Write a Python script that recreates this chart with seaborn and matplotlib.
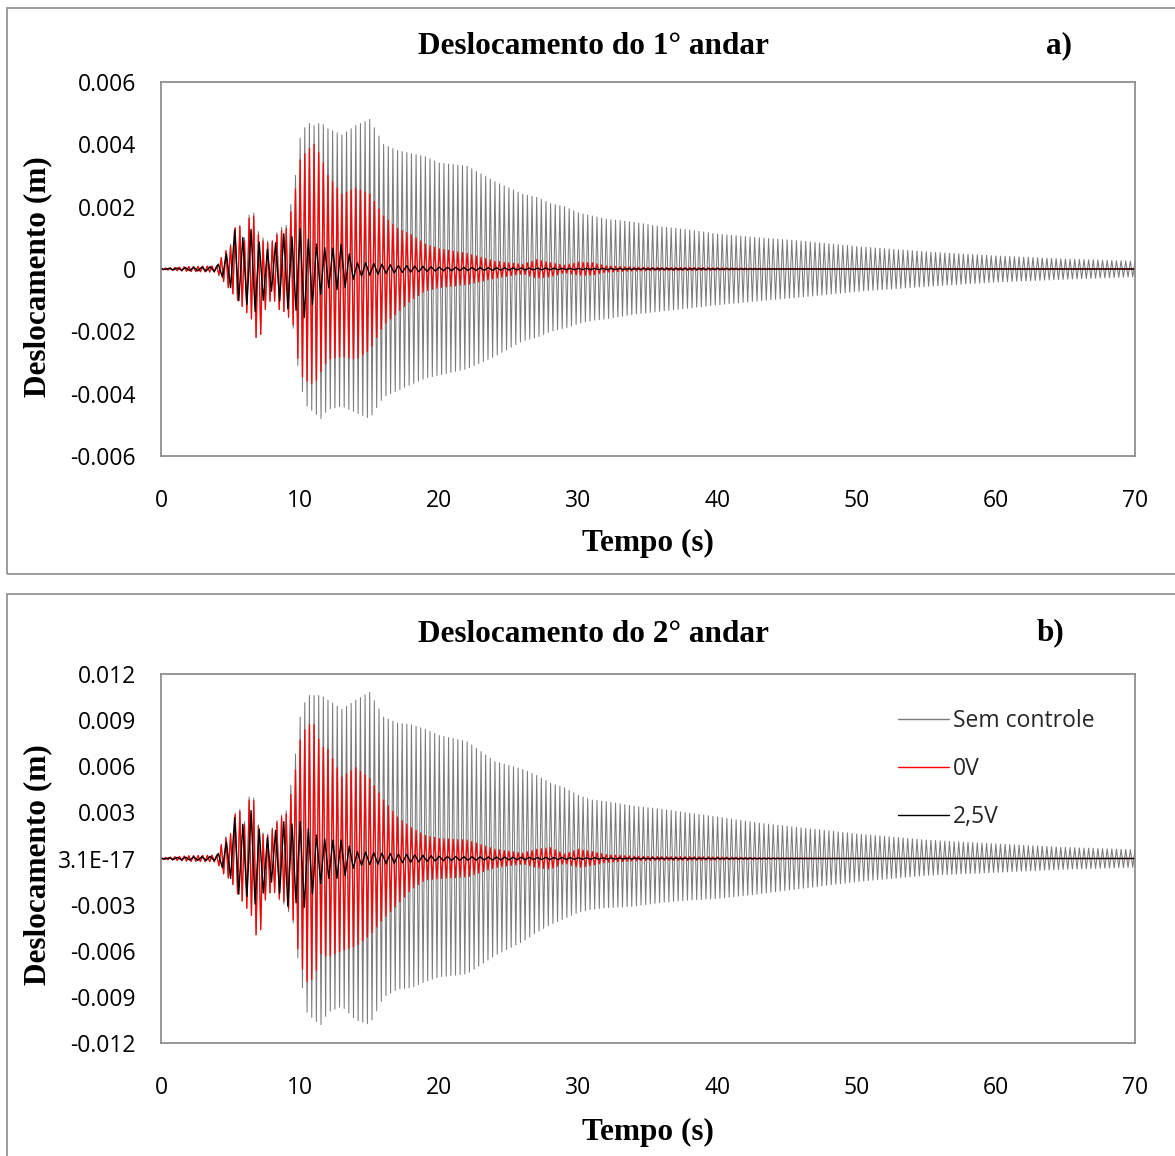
import numpy as np
import pandas as pd
import matplotlib
matplotlib.use("Agg")
import matplotlib.pyplot as plt
from matplotlib.patches import Rectangle
import seaborn as sns

# ---------------- data ----------------
# envelope knots (s) and peak displacements (mm = 1e-3 m) at those knots
T_KNOTS = [0, 2, 4, 4.5, 5, 5.5, 6, 6.5, 7, 7.5, 8, 8.5, 9, 9.5, 10, 10.5, 11, 11.5, 12,
           13, 14, 15, 16, 17, 18, 19, 20, 22, 24, 26, 27, 28, 29, 30, 31, 32,
           34, 36, 38, 40, 43, 46, 50, 55, 60, 65, 70]

# dominant oscillation frequencies read from peak spacing (Hz)
FREQ_MAIN = 3.0
FREQ_25V = 1.7

# --- panel a: 1st floor ---
sem_a_up = [0.02, 0.08, 0.10, 0.5, 0.8, 1.6, 1.0, 2.1, 1.2, 0.9, 0.9, 1.3, 1.4, 2.4, 4.2, 4.7, 4.6, 4.7, 4.5,
            4.3, 4.6, 4.8, 4.0, 3.8, 3.7, 3.6, 3.4, 3.3, 2.8, 2.4, 2.3, 2.1, 2.0, 1.8, 1.7, 1.6,
            1.5, 1.35, 1.25, 1.12, 1.0, 0.9, 0.72, 0.55, 0.42, 0.32, 0.25]
sem_a_dn = [-0.02, -0.08, -0.10, -0.4, -0.7, -1.0, -1.3, -1.6, -2.5, -1.3, -0.9, -1.3, -1.4, -1.9, -3.7, -4.4, -4.6, -4.8, -4.5,
            -4.4, -4.6, -4.8, -4.1, -3.9, -3.7, -3.5, -3.4, -3.2, -2.8, -2.3, -2.2, -2.0, -1.9, -1.75, -1.65, -1.6,
            -1.45, -1.35, -1.25, -1.15, -1.02, -0.9, -0.72, -0.56, -0.42, -0.33, -0.25]
v0_a_up = [0.02, 0.08, 0.10, 0.5, 0.75, 1.6, 0.9, 2.0, 1.1, 0.8, 0.9, 1.2, 1.3, 2.1, 3.5, 3.8, 4.0, 3.6, 3.0,
           2.4, 2.6, 2.4, 1.7, 1.3, 1.1, 0.8, 0.65, 0.5, 0.25, 0.15, 0.3, 0.2, 0.12, 0.22, 0.2, 0.1,
           0.06, 0.05, 0.05, 0.04, 0.02, 0.01, 0.0, 0.0, 0.0, 0.0, 0.0]
v0_a_dn = [-0.02, -0.08, -0.10, -0.4, -0.7, -1.0, -1.3, -1.6, -2.5, -1.3, -0.9, -1.3, -1.4, -1.8, -3.4, -3.6, -3.7, -3.3, -2.9,
           -2.8, -2.9, -2.6, -1.8, -1.4, -1.0, -0.7, -0.6, -0.5, -0.3, -0.15, -0.3, -0.25, -0.12, -0.2, -0.2, -0.1,
           -0.06, -0.05, -0.05, -0.04, -0.02, -0.01, 0.0, 0.0, 0.0, 0.0, 0.0]
v25_a_up = [0.01, 0.05, 0.08, 0.4, 0.6, 1.7, 0.8, 1.3, 0.9, 0.6, 0.7, 1.0, 1.2, 1.0, 1.3, 1.0, 0.8, 0.8, 0.6,
            0.8, 0.2, 0.2, 0.15, 0.12, 0.1, 0.08, 0.06, 0.05, 0.04, 0.03, 0.03, 0.03, 0.02, 0.02, 0.02, 0.02,
            0.01, 0.01, 0.01, 0.01, 0.0, 0.0, 0.0, 0.0, 0.0, 0.0, 0.0]
v25_a_dn = [-0.01, -0.05, -0.08, -0.3, -0.6, -1.0, -1.1, -1.2, -1.5, -0.8, -0.7, -1.0, -1.3, -1.2, -1.5, -1.6, -1.0, -0.8, -0.6,
            -0.7, -0.25, -0.2, -0.15, -0.12, -0.1, -0.08, -0.06, -0.05, -0.04, -0.03, -0.03, -0.03, -0.02, -0.02, -0.02, -0.02,
            -0.01, -0.01, -0.01, -0.01, 0.0, 0.0, 0.0, 0.0, 0.0, 0.0, 0.0]

# --- panel b: 2nd floor ---
sem_b_up = [0.05, 0.18, 0.22, 1.3, 1.65, 3.6, 2.4, 4.8, 2.2, 1.4, 2.0, 2.7, 3.1, 5.6, 9.2, 10.6, 10.6, 10.6, 10.3,
            9.7, 10.3, 10.8, 9.2, 8.8, 8.7, 8.4, 8.0, 7.6, 6.3, 5.8, 5.4, 4.9, 4.6, 4.1, 3.8, 3.7,
            3.4, 3.2, 2.95, 2.7, 2.3, 2.0, 1.6, 1.2, 0.95, 0.72, 0.57]
sem_b_dn = [-0.05, -0.18, -0.22, -1.0, -1.4, -2.3, -3.0, -3.7, -5.6, -2.7, -2.0, -2.7, -3.1, -4.2, -7.6, -10.0, -10.5, -10.8, -10.0,
            -9.6, -10.5, -10.8, -9.0, -8.5, -8.4, -8.0, -7.7, -7.5, -6.3, -5.4, -4.8, -4.3, -3.9, -3.5, -3.3, -3.2,
            -3.1, -2.85, -2.7, -2.6, -2.3, -1.95, -1.5, -1.1, -0.9, -0.7, -0.57]
v0_b_up = [0.05, 0.18, 0.22, 1.2, 1.6, 3.5, 2.2, 4.6, 2.1, 1.3, 1.9, 2.6, 2.9, 4.8, 7.7, 8.7, 8.7, 7.3, 7.1,
           5.3, 5.9, 5.2, 3.8, 2.7, 2.0, 1.5, 1.3, 1.2, 0.6, 0.35, 0.6, 0.7, 0.3, 0.6, 0.45, 0.25,
           0.15, 0.12, 0.12, 0.1, 0.05, 0.03, 0.0, 0.0, 0.0, 0.0, 0.0]
v0_b_dn = [-0.05, -0.18, -0.22, -1.0, -1.4, -2.3, -3.0, -3.7, -5.6, -2.7, -2.0, -2.6, -2.9, -4.0, -6.8, -8.0, -7.8, -6.2, -6.4,
           -6.0, -5.7, -5.0, -3.9, -3.0, -2.0, -1.4, -1.3, -1.2, -0.6, -0.35, -0.6, -0.7, -0.3, -0.6, -0.45, -0.25,
           -0.15, -0.12, -0.12, -0.1, -0.05, -0.03, 0.0, 0.0, 0.0, 0.0, 0.0]
v25_b_up = [0.03, 0.1, 0.15, 0.9, 1.3, 3.6, 1.8, 3.2, 2.0, 1.3, 1.5, 2.2, 2.5, 2.2, 2.4, 2.0, 1.6, 1.4, 1.2,
            1.2, 0.45, 0.4, 0.35, 0.3, 0.25, 0.2, 0.15, 0.12, 0.1, 0.08, 0.07, 0.07, 0.06, 0.05, 0.05, 0.04,
            0.03, 0.02, 0.02, 0.02, 0.0, 0.0, 0.0, 0.0, 0.0, 0.0, 0.0]
v25_b_dn = [-0.03, -0.1, -0.15, -0.7, -1.3, -2.3, -2.4, -2.6, -3.3, -1.8, -1.5, -2.2, -3.2, -2.8, -3.0, -3.3, -2.0, -1.6, -1.3,
            -1.3, -0.5, -0.4, -0.35, -0.3, -0.25, -0.2, -0.15, -0.12, -0.1, -0.08, -0.07, -0.07, -0.06, -0.05, -0.05, -0.04,
            -0.03, -0.02, -0.02, -0.02, 0.0, 0.0, 0.0, 0.0, 0.0, 0.0, 0.0]

SERIES = ["Sem controle", "0V", "2,5V"]
TITLES = ["Deslocamento do 1° andar", "Deslocamento do 2° andar"]
PANEL_TAGS = ["a)", "b)"]
X_TICKS = [0, 10, 20, 30, 40, 50, 60, 70]
Y_TICKS_A = [0.006, 0.004, 0.002, 0.0, -0.002, -0.004, -0.006]
Y_LABELS_A = ["0.006", "0.004", "0.002", "0", "-0.002", "-0.004", "-0.006"]
Y_TICKS_B = [0.012, 0.009, 0.006, 0.003, 0.0, -0.003, -0.006, -0.009, -0.012]
Y_LABELS_B = ["0.012", "0.009", "0.006", "0.003", "3.1E-17", "-0.003", "-0.006", "-0.009", "-0.012"]


def peak_series(up_mm, dn_mm, freq, t_end=70.0):
    """Alternate between the read upper and lower peak envelopes every half period."""
    half = 0.5 / freq
    tp = np.arange(0.0, t_end + 1e-9, half)
    u = np.interp(tp, T_KNOTS, up_mm)
    d = np.interp(tp, T_KNOTS, dn_mm)
    y = np.where(np.arange(len(tp)) % 2 == 0, u, d) * 1e-3
    return pd.DataFrame({"Tempo": tp, "Desloc": y})


# ---------------- style ----------------
sns.set_theme(style="white")
plt.rcParams["font.family"] = ["Open Sans", "DejaVu Sans"]
SERIF = ["Liberation Serif", "DejaVu Serif"]

W, H = 1175, 1156
fig = plt.figure(figsize=(W / 100, H / 100), dpi=100)
fig.patch.set_facecolor("white")

COLORS = {"Sem controle": "#7a7a7a", "0V": "#ff0000", "2,5V": "#000000"}
LW = {"Sem controle": 0.75, "0V": 0.9, "2,5V": 1.0}

panels = [
    dict(top=82, bottom=456, data=[(sem_a_up, sem_a_dn, FREQ_MAIN), (v0_a_up, v0_a_dn, FREQ_MAIN),
                                   (v25_a_up, v25_a_dn, FREQ_25V)],
         yt=Y_TICKS_A, yl=Y_LABELS_A, lim=0.006, box=(8, 574), title_y=47, ylab_y=277, xlab_y=543,
         tag_x=1059, legend=False),
    dict(top=674, bottom=1043, data=[(sem_b_up, sem_b_dn, FREQ_MAIN), (v0_b_up, v0_b_dn, FREQ_MAIN),
                                     (v25_b_up, v25_b_dn, FREQ_25V)],
         yt=Y_TICKS_B, yl=Y_LABELS_B, lim=0.012, box=(594, 1175), title_y=634, ylab_y=865, xlab_y=1132,
         tag_x=1050, legend=True),
]

border = "#8c8c8c"
for i, p in enumerate(panels):
    # chart-area frame
    y0, y1 = p["box"]
    fig.patches.append(Rectangle((7 / W, 1 - y1 / H), 1.2, (y1 - y0) / H, transform=fig.transFigure,
                                 fill=False, edgecolor=border, linewidth=1.2, zorder=0))

    ax = fig.add_axes([161 / W, 1 - p["bottom"] / H, (1135 - 161) / W, (p["bottom"] - p["top"]) / H])
    for name, (up, dn, f) in zip(SERIES, p["data"]):
        df = peak_series(up, dn, f)
        sns.lineplot(data=df, x="Tempo", y="Desloc", ax=ax, color=COLORS[name], linewidth=LW[name],
                     estimator=None, sort=False, label=name)

    ax.set_xlim(0, 70)
    ax.set_ylim(-p["lim"], p["lim"])
    ax.set_xticks(X_TICKS, labels=[str(v) for v in X_TICKS])
    ax.set_yticks(p["yt"], labels=p["yl"])
    ax.set_xlabel("")
    ax.set_ylabel("")
    ax.tick_params(axis="x", length=0, pad=24, labelsize=16.5, colors="black")
    ax.tick_params(axis="y", direction="in", length=7, width=1, color="#868686", pad=18,
                   labelsize=16.5, labelcolor="black")
    for s in ax.spines.values():
        s.set_visible(True)
        s.set_color("#868686")
        s.set_linewidth(1.2)

    if p["legend"]:
        leg = ax.legend(loc="upper left", bbox_to_anchor=(0.7475, 0.93), frameon=False, fontsize=16.5,
                        handlelength=2.2, handletextpad=0.2, labelspacing=1.05, borderaxespad=0)
        for h in leg.get_lines():
            h.set_linewidth(1.0)
    else:
        ax.get_legend().remove()

    fig.text(593 / W, 1 - p["title_y"] / H, TITLES[i], ha="center", va="center", family=SERIF,
             fontweight="bold", fontsize=22.5, color="black")
    fig.text(p["tag_x"] / W, 1 - (p["title_y"] - 1) / H, PANEL_TAGS[i], ha="center", va="center",
             family=SERIF, fontweight="bold", fontsize=22.5, color="black")
    fig.text(38 / W, 1 - p["ylab_y"] / H, "Deslocamento (m)", rotation=90, ha="center", va="center",
             family=SERIF, fontweight="bold", fontsize=22.5, color="black")
    fig.text(648 / W, 1 - p["xlab_y"] / H, "Tempo (s)", ha="center", va="center", family=SERIF,
             fontweight="bold", fontsize=22.5, color="black")

fig.savefig("out.png", dpi=100, facecolor="white")
